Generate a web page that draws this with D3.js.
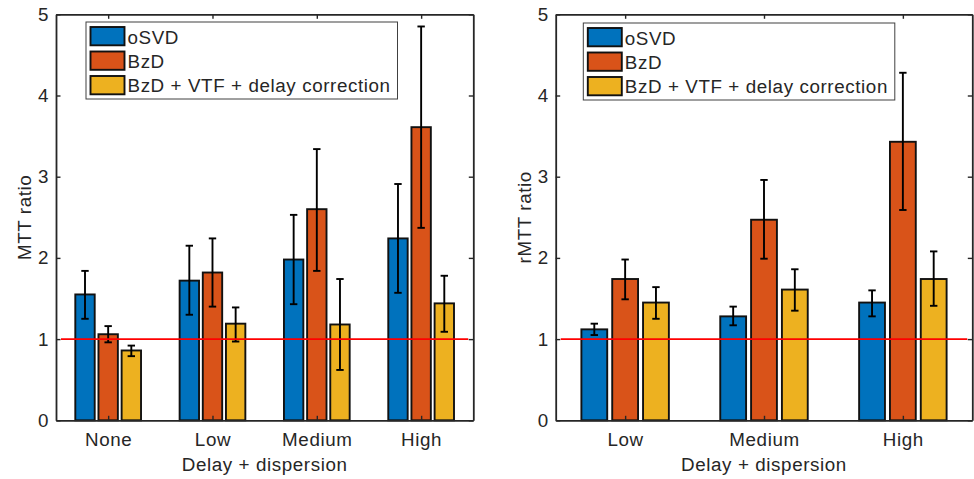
<!DOCTYPE html>
<html>
<head>
<meta charset="utf-8">
<script src="https://cdn.jsdelivr.net/npm/d3@7"></script>
<style>
  body { margin: 0; background: #fff; }
  svg text { font-family: "Liberation Sans", Arial, Helvetica, sans-serif; fill: #262626; letter-spacing: 0.6px; }
</style>
</head>
<body>
<div id="chart-area"></div>
<script>
// data
const seriesNames = ["oSVD", "BzD", "BzD + VTF + delay correction"]
const seriesColors = ["#0072BD", "#D95319", "#EDB120"]
const yTicks = [0, 1, 2, 3, 4, 5]

// left panel: MTT ratio
const mttCategories = ["None", "Low", "Medium", "High"]
const mttOSVD      = [1.55, 1.72, 1.98, 2.24]
const mttOSVDLow   = [1.25, 1.30, 1.43, 1.57]
const mttOSVDHigh  = [1.84, 2.15, 2.53, 2.91]
const mttBzD       = [1.06, 1.82, 2.60, 3.61]
const mttBzDLow    = [0.96, 1.40, 1.84, 2.37]
const mttBzDHigh   = [1.16, 2.24, 3.34, 4.85]
const mttVTF       = [0.86, 1.19, 1.18, 1.44]
const mttVTFLow    = [0.79, 0.97, 0.62, 1.09]
const mttVTFHigh   = [0.92, 1.39, 1.74, 1.78]

// right panel: rMTT ratio
const rmttCategories = ["Low", "Medium", "High"]
const rmttOSVD     = [1.12, 1.28, 1.45]
const rmttOSVDLow  = [1.05, 1.17, 1.28]
const rmttOSVDHigh = [1.19, 1.40, 1.60]
const rmttBzD      = [1.74, 2.47, 3.43]
const rmttBzDLow   = [1.49, 1.99, 2.59]
const rmttBzDHigh  = [1.98, 2.96, 4.28]
const rmttVTF      = [1.45, 1.61, 1.74]
const rmttVTFLow   = [1.25, 1.35, 1.41]
const rmttVTFHigh  = [1.64, 1.86, 2.08]

const TOP = 14.3
const BOTTOM = 420.3
const TICK = 4.5
const FONT = "18.8px"

const svg = d3.select("#chart-area")
  .append("svg")
  .attr("width", 974)
  .attr("height", 479)

function drawPanel(left, right, categories, vals, lows, highs, yLabel, legendPos) {
  const x = d3.scaleLinear()
    .domain([0.5, categories.length + 0.5])
    .range([left, right])
  const y = d3.scaleLinear()
    .domain([0, 5])
    .range([BOTTOM, TOP])

  const g = svg.append("g")

  const groupOffset = 0.222
  const barWidth = 0.186

  // bars
  vals.forEach((series, s) => {
    g.selectAll(null)
      .data(series)
      .enter().append("rect")
      .attr("x", (d, i) => x(i + 1 + (s - 1) * groupOffset - barWidth / 2))
      .attr("y", d => y(d))
      .attr("width", x(barWidth) - x(0))
      .attr("height", d => y(0) - y(d))
      .attr("fill", seriesColors[s])
      .attr("stroke", "#111")
      .attr("stroke-width", 1.9)
  })

  // error bars
  vals.forEach((series, s) => {
    series.forEach((v, i) => {
      const cx = x(i + 1 + (s - 1) * groupOffset)
      const lo = y(lows[s][i]), hi = y(highs[s][i])
      const eg = g.append("g")
        .attr("stroke", "#000")
        .attr("stroke-width", 1.9)
      eg.append("line").attr("x1", cx).attr("x2", cx).attr("y1", lo).attr("y2", hi)
      eg.append("line").attr("x1", cx - 3.7).attr("x2", cx + 3.7).attr("y1", lo).attr("y2", lo)
      eg.append("line").attr("x1", cx - 3.7).attr("x2", cx + 3.7).attr("y1", hi).attr("y2", hi)
    })
  })

  // reference line at 1
  g.append("line")
    .attr("x1", left + 5)
    .attr("x2", right - 5)
    .attr("y1", y(1))
    .attr("y2", y(1))
    .attr("stroke", "#ff0000")
    .attr("stroke-width", 1.8)

  // axes (MATLAB style box, ticks inward)
  const tickVals = d3.range(1, categories.length + 1)
  const xAxisCall = d3.axisBottom(x)
    .tickValues(tickVals)
    .tickFormat(d => categories[d - 1])
    .tickSizeInner(-TICK)
    .tickSizeOuter(0)
    .tickPadding(12.5)
  g.append("g")
    .attr("transform", `translate(0, ${BOTTOM})`)
    .call(xAxisCall)

  g.append("g")
    .attr("transform", `translate(0, ${TOP})`)
    .call(d3.axisTop(x).tickValues(tickVals).tickFormat("").tickSizeInner(-TICK).tickSizeOuter(0))

  g.append("g")
    .attr("transform", `translate(${left}, 0)`)
    .call(d3.axisLeft(y).tickValues(yTicks).tickFormat(d3.format("d")).tickSizeInner(-TICK).tickSizeOuter(0).tickPadding(7))

  g.append("g")
    .attr("transform", `translate(${right}, 0)`)
    .call(d3.axisRight(y).tickValues(yTicks).tickFormat("").tickSizeInner(-TICK).tickSizeOuter(0))

  g.selectAll(".domain").attr("stroke", "#262626").attr("stroke-width", 1.8)
  g.selectAll(".tick line").attr("stroke", "#262626").attr("stroke-width", 1.4)
  g.selectAll(".tick text")
    .attr("font-size", FONT)
    .attr("font-family", "'Liberation Sans', Arial, sans-serif")
    .attr("fill", "#262626")

  // X label
  g.append("text")
    .attr("x", (left + right) / 2)
    .attr("y", 471)
    .attr("font-size", FONT)
    .attr("text-anchor", "middle")
    .text("Delay + dispersion")

  // Y label
  g.append("text")
    .attr("transform", `translate(${left - 25}, ${(TOP + BOTTOM) / 2}) rotate(-90)`)
    .attr("font-size", FONT)
    .attr("text-anchor", "middle")
    .text(yLabel)

  // legend
  const lg = g.append("g")
    .attr("transform", `translate(${legendPos[0]}, ${legendPos[1]})`)
  lg.append("rect")
    .attr("width", 311.5)
    .attr("height", 77)
    .attr("fill", "#fff")
    .attr("stroke", "#404040")
    .attr("stroke-width", 1)
  seriesNames.forEach((name, s) => {
    lg.append("rect")
      .attr("x", 4.5)
      .attr("y", 5 + s * 24.5)
      .attr("width", 34)
      .attr("height", 18.3)
      .attr("fill", seriesColors[s])
      .attr("stroke", "#111")
      .attr("stroke-width", 1.9)
    lg.append("text")
      .attr("x", 41.5)
      .attr("y", 22 + s * 24.2)
      .attr("font-size", FONT)
      .text(name)
  })
}

drawPanel(56, 473.3, mttCategories,
  [mttOSVD, mttBzD, mttVTF],
  [mttOSVDLow, mttBzDLow, mttVTFLow],
  [mttOSVDHigh, mttBzDHigh, mttVTFHigh],
  "MTT ratio", [86, 22])

drawPanel(555.7, 972.3, rmttCategories,
  [rmttOSVD, rmttBzD, rmttVTF],
  [rmttOSVDLow, rmttBzDLow, rmttVTFLow],
  [rmttOSVDHigh, rmttBzDHigh, rmttVTFHigh],
  "rMTT ratio", [583.3, 23])
</script>
</body>
</html>
